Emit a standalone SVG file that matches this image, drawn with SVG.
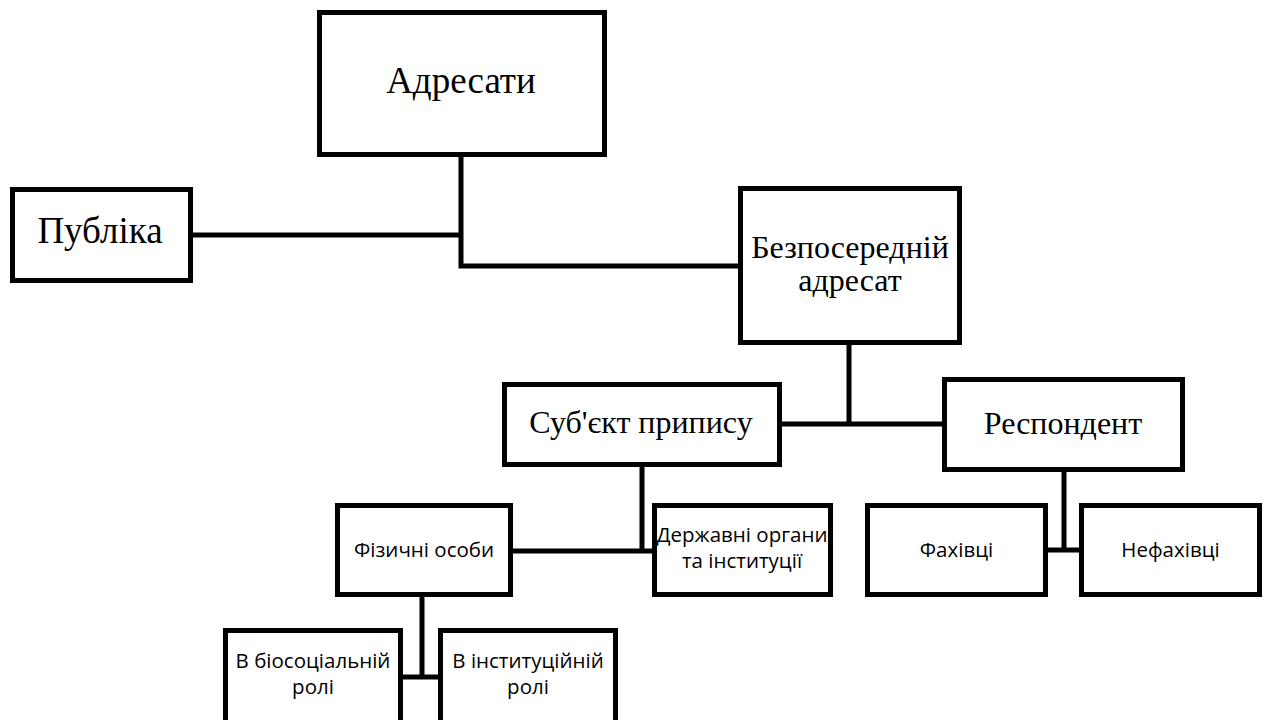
<svg xmlns="http://www.w3.org/2000/svg" width="1264" height="720" viewBox="0 0 1264 720">
<style>
.box{fill:#fff;stroke:#000;stroke-width:5}
.conn{fill:none;stroke:#000;stroke-width:5;stroke-linejoin:miter}
.serif{font-family:"Liberation Serif","Times New Roman",serif;fill:#000;text-anchor:middle}
.sans{font-family:"Open Sans","Noto Sans",sans-serif;fill:#000;text-anchor:middle;font-size:20.5px}
</style>
<rect width="1264" height="720" fill="#fff"/>
<g id="connectors">
<path class="conn" d="M461 157 V266 H741"/>
<path class="conn" d="M191 235 H461"/>
<path class="conn" d="M849 345 V424"/>
<path class="conn" d="M780 424 H945"/>
<path class="conn" d="M642 467 V551"/>
<path class="conn" d="M511 551 H655"/>
<path class="conn" d="M1064 472 V550"/>
<path class="conn" d="M1046 550 H1081"/>
<path class="conn" d="M422 597 V677"/>
<path class="conn" d="M401 677 H441"/>
</g>
<g id="adresaty">
<rect class="box" x="319.5" y="12.5" width="285" height="142"/>
<text class="serif" x="461" y="93" font-size="37">Адресати</text>
</g>
<g id="publika">
<rect class="box" x="12.5" y="189.5" width="178" height="91"/>
<text class="serif" x="100" y="243" font-size="37">Публіка</text>
</g>
<g id="bezposeredniy">
<rect class="box" x="740.5" y="188.5" width="219" height="154"/>
<text class="serif" x="850" y="258" font-size="32">Безпосередній</text>
<text class="serif" x="850" y="291" font-size="32">адресат</text>
</g>
<g id="subiekt">
<rect class="box" x="504.5" y="384.5" width="275" height="80"/>
<text class="serif" x="641" y="433" font-size="32">Суб'єкт припису</text>
</g>
<g id="respondent">
<rect class="box" x="944.5" y="379.5" width="238" height="90"/>
<text class="serif" x="1063" y="434" font-size="32">Респондент</text>
</g>
<g id="fizychni">
<rect class="box" x="337.5" y="505.5" width="173" height="89"/>
<text class="sans" x="424" y="557">Фізичні особи</text>
</g>
<g id="derzhavni">
<rect class="box" x="654.5" y="505.5" width="176" height="89"/>
<text class="sans" x="742" y="542">Державні органи</text>
<text class="sans" x="742" y="568">та інституції</text>
</g>
<g id="fakhivtsi">
<rect class="box" x="867.5" y="505.5" width="178" height="89"/>
<text class="sans" x="956.5" y="557">Фахівці</text>
</g>
<g id="nefakhivtsi">
<rect class="box" x="1081.5" y="505.5" width="178" height="89"/>
<text class="sans" x="1170.5" y="557">Нефахівці</text>
</g>
<g id="biosotsialniy">
<rect class="box" x="225.5" y="630.5" width="175" height="95"/>
<text class="sans" x="313" y="668">В біосоціальній</text>
<text class="sans" x="313" y="694">ролі</text>
</g>
<g id="instytutsiyniy">
<rect class="box" x="440.5" y="630.5" width="175" height="95"/>
<text class="sans" x="528" y="668">В інституційній</text>
<text class="sans" x="528" y="694">ролі</text>
</g>
</svg>
